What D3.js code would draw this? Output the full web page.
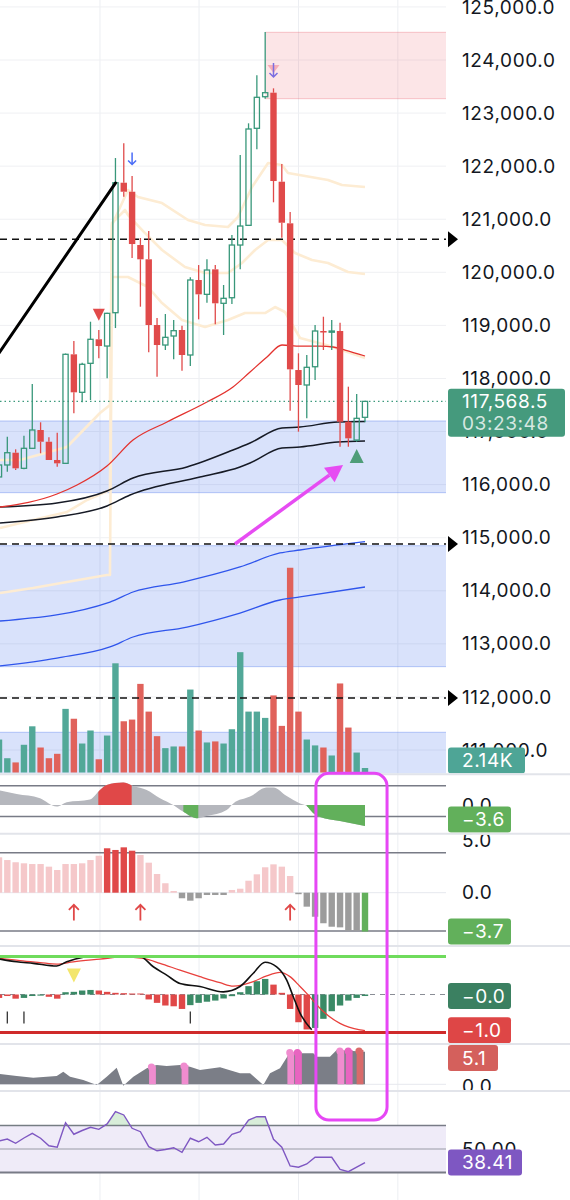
<!DOCTYPE html>
<html><head><meta charset="utf-8">
<script src="https://cdn.jsdelivr.net/npm/d3@7/dist/d3.min.js"></script>
<style>html,body{margin:0;padding:0;background:#fff;}svg{display:block;}</style>
</head><body>
<svg id="chart" width="570" height="1200" font-family="Inter, 'Noto Sans', sans-serif"></svg>
<script>
// ================= DATA =================
const openP  = [116144,116370,116601,116307,116684,117029,116808,116464,116401,118455,117739,118285,118738,118611,119239,121688,121518,120514,120245,119007,118630,118800,118913,118442,119855,119585,120056,119416,119521,120514,120885,122713,123308,123384,121707,120923,118159,117877,118221,118894,118881,118894,117185,116840,117268];
const highP  = [116450,116903,116665,116921,117895,117174,116891,116978,118470,118706,118297,119069,118913,119239,122153,122430,121814,120646,120778,119139,119214,119101,118994,119906,120137,120245,120137,119761,120703,122210,122807,123711,124527,123466,122040,121136,118474,118442,119007,119163,119101,119050,117845,117707,117568.5];
const lowP   = [116100,116243,116275,116290,116684,116590,116464,116337,116390,117343,117551,117594,118380,118003,118950,121424,120269,119352,118493,118033,118536,118361,118146,118235,119114,119427,119020,118819,119403,120056,120885,122317,123271,121319,120652,117392,116997,117249,117971,118536,118536,116714,116714,116808,117174];
const closeP = [116370,116601,116307,116684,117029,116808,116464,116401,118455,117739,118267,118738,118611,119227,121688,121518,120533,120245,119007,118630,118775,118900,118442,119855,119585,120043,119416,119510,120514,120872,122700,123297,123384,121720,120934,118172,117877,118210,118894,118881,118894,117185,116872,117249,117568.5];
const volumeK = [15.7,6.8,4.8,13.2,22.0,11.9,6.8,8.9,30.3,25.6,13.8,20.0,6.3,17.6,52.0,24.4,25.2,42.2,29.0,17.3,11.6,12.4,12.4,39.5,20.0,14.3,14.8,13.8,20.6,57.3,29.0,29.0,26.0,36.7,22.2,97.5,29.0,15.7,12.9,11.9,8.1,42.4,21.4,9.5,2.14];
const priceTicks = d3.range(111000, 125001, 1000);
const gridIdx = [12.14, 24.05, 36.0, 47.95];

// overlays (candle index, price)
const maRed   = [[0.12,115578],[6.97,115823],[9.38,115993],[12.98,116351],[16.11,116840],[20.2,117180],[25.0,117556],[28.13,117839],[30.18,118122],[32.22,118404],[34.02,118630],[36.19,118611],[38.59,118611],[40.15,118593],[41.6,118536],[44.0,118423]];
const maBlack1 = [[0.12,115578],[6.97,115653],[12.98,115880],[16.11,116124],[22.6,116332],[28.13,116652],[30.18,116784],[34.02,117066],[36.19,117085],[40.75,117180],[44.0,117189]];
const maBlack2 = [[0.12,115277],[6.97,115390],[12.98,115597],[15.75,115804],[24.16,116143],[28.97,116332],[30.18,116407],[34.02,116690],[36.19,116709],[40.75,116803],[44.0,116822]];
const maBlue1 = [[0.12,113430],[13.34,113788],[16.11,113977],[22.12,114165],[28.97,114448],[33.78,114712],[36.19,114768],[44.0,114924]];
const maBlue2 = [[0.12,112583],[6.97,112733],[13.34,112941],[16.11,113129],[22.6,113317],[28.97,113581],[33.78,113826],[36.19,113883],[44.0,114071]];
const bandUpper = [[0.12,116464],[2.52,116464],[8.17,116709],[12.14,117349],[13.34,117500],[13.58,120891],[15.51,121550],[16.71,121419],[19.6,121305],[22.72,120985],[24.77,120891],[27.53,120853],[28.73,121042],[30.42,121607],[32.35,122059],[34.02,122021],[34.74,121871],[39.55,121739],[41.23,121645],[44.0,121607]];
const bandMiddle = [[0.12,115182],[4.09,115333],[8.17,115484],[10.58,115710],[13.34,115898],[13.58,120929],[15.15,121174],[15.51,121079],[17.55,120740],[19.6,120420],[22.36,120100],[24.77,119987],[27.53,119987],[29.21,120175],[30.78,120420],[32.35,120608],[34.02,120608],[35.59,120363],[37.63,120232],[39.55,120175],[41.96,120006],[44.0,119968]];
const bandLower = [[0.12,113958],[4.09,114052],[8.17,114165],[12.98,114297],[13.34,114297],[13.58,119911],[15.51,119911],[17.91,119723],[19.6,119421],[22.0,119101],[24.77,118969],[27.53,119101],[29.57,119233],[31.98,119233],[33.18,119346],[34.38,119252],[36.19,118762],[39.79,118611],[44.0,118385]];
const blueZones = [[117199,115848],[114849,112570],[111334,110000]];
const pinkZone = {fromIdx:32, hi:124522, lo:123271};
const dashedLevels = [120621, 114880, 111980];
const lastPrice = 117568.5;
const countdown = "03:23:48";
const trendIdx = [-1, 14];
const trendVal = [118248, 121682];
const arrowFrom = [28.37, 114881];
const arrowTo = [41.36, 116369];

// panel 1 oscillator
const oscPts = [[0.12,3.6],[2.13,2.75],[4.93,1.7],[6.94,-0.4],[8.14,0.7],[10.94,1.4],[12.14,3.75],[12.95,5.0],[14.94,5.6],[16.15,4.75],[17.76,3.75],[19.36,1.7],[20.95,0],[22.16,-1.7],[23.77,-3.3],[24.97,-2.75],[27.37,-1.25],[28.17,0.4],[30.18,2.1],[32.18,4.4],[32.98,4.4],[34.59,2.25],[36.19,0.4],[36.99,-0.25],[37.75,-2.0],[38.59,-3.0],[40.99,-4.0],[44.0,-5.25]];
const oscRedRanges = [[11.94,15.95]];
const oscGreenRanges = [[22.16,23.96],[36.99,44.0]];
const oscLevels = [4.8, -2.9];
const oscLast = -3.6;

// panel 2 histogram
const histVal = [3.37,3.11,2.90,2.80,2.73,2.73,2.48,2.16,2.73,2.73,2.80,3.11,3.52,4.23,4.07,4.32,4.0,3.59,2.86,1.78,0.9,0.16,-0.53,-0.76,-0.53,-0.22,-0.22,-0.22,0.26,0.38,1.14,1.75,2.42,2.70,2.48,1.59,-0.1,-1.33,-2.29,-2.91,-3.24,-3.30,-3.62,-3.62,-3.7];
const histStrong = [13,14,15,16];
const histLevels = [3.8, -3.65];
const histArrowsIdx = [9,17,35];

// panel 3 macd-like
const macdHist = [-0.09,-0.04,-0.11,-0.09,-0.04,-0.03,-0.06,-0.11,0.06,0.07,0.105,0.12,0.105,0.07,0.044,0.035,0.026,0.026,-0.13,-0.22,-0.29,-0.31,-0.38,-0.28,-0.22,-0.19,-0.16,-0.105,-0.044,0.06,0.22,0.35,0.41,0.26,0.044,-0.38,-0.73,-0.92,-0.88,-0.64,-0.44,-0.29,-0.16,-0.09,-0.04];
const macdColor = "rrrgggrrggggrrrrrrrrrrrggggggggggrrrrrgggggggg".slice(0,45);
const macdLine = [[0.12,0.93],[2.13,0.86],[4.12,0.82],[6.94,0.75],[8.14,0.86],[10.13,0.98],[10.94,1.0],[16.95,1.0],[18.55,0.73],[20.16,0.51],[21.76,0.29],[24.16,0.21],[26.97,0.07],[28.97,0.21],[30.57,0.56],[31.98,0.85],[33.38,0.73],[34.59,0.38],[35.38,-0.06],[36.19,-0.49],[37.59,-0.93]];
const signalLine = [[0.12,0.95],[2.52,0.89],[4.93,0.84],[6.94,0.80],[8.93,0.86],[12.14,0.93],[14.94,0.99],[17.35,0.95],[19.36,0.82],[21.76,0.64],[24.16,0.47],[26.57,0.31],[28.17,0.22],[30.57,0.34],[32.18,0.49],[33.78,0.58],[34.98,0.47],[36.19,0.21],[36.99,0.03],[38.99,-0.45],[40.99,-0.76],[43.4,-0.93],[44.0,-0.95]];
const macdUpper = 1.0, macdLower = -1.0;
const macdTicksIdx = [1,3,23];
const macdTriIdx = 9, macdTriVal = 0.5;
const macdLabels = [-0.04, -1.0];

// panel 4 area + lollipops
const volatPts = [[0.12,1.98],[2.13,1.6],[4.12,1.27],[6.94,1.6],[7.73,2.42],[8.54,1.46],[10.13,0.83],[11.75,-0.13],[12.95,1.46],[14.15,3.19],[14.94,-0.27],[16.15,1.46],[17.76,3.08],[18.96,3.71],[20.16,3.52],[21.76,3.71],[22.96,3.38],[24.16,2.75],[26.57,3.27],[28.97,2.12],[30.18,2.12],[31.78,-0.13],[32.58,2.12],[33.78,3.08],[34.78,5.63],[35.38,5.96],[37.79,5.96],[38.19,5.31],[39.79,5.31],[40.6,6.6],[44.0,6.27]];
const lollyIdx = [18.45,22.36,35.08,36.0,41.1,42.1,43.4];
const lollyVal = [3.5,3.7,6.27,6.27,6.6,6.6,6.6];
const lollyColor = ["#f08ccf","#f08ccf","#f08ccf","#e864c0","#f08ccf","#e864c0","#d96a6a"];
const volatLast = 5.1;

// panel 5 RSI
const rsiVal = [56.8,58.5,54.9,59.4,63.4,59.2,52.8,51.5,72.5,62.6,65.8,68.5,66.8,71.4,81.9,79.1,67.7,64.8,52.0,48.5,49.6,51.1,47.2,59.2,56.2,60.0,53.4,54.3,62.6,64.8,74.8,77.6,77.6,58.3,51.5,35.5,34.4,37.2,42.9,42.9,42.9,32.6,30.6,34.6,38.41];

// annotation box
const boxIdx = [38.1, 46.65];
const boxTopPrice = 110560, boxBottomRsi = 74.8;

// ================= CHART =================
const W = 570, PR = 446;
const FONT = 19, LS = 0.6;
const svg = d3.select('#chart');
const x = d3.scaleLinear([0,44],[-1,365]);
const yP = d3.scaleLinear([124000,111000],[60,750]);
const yVol = d3.scaleLinear([0,100],[772.5,562.5]);
const yO = d3.scaleLinear([0,1],[805,801]);
const yH = d3.scaleLinear([0,5],[892.7,840.2]);
const yM = d3.scaleLinear([0,1],[994.5,956.5]);
const yV = d3.scaleLinear([0,1],[1084.3,1079.1]);
const yR = d3.scaleLinear([50,70],[1149,1125.6]);

const UP = "#38977a", DN = "#e04a4a";
const panels = [
  {id:'main', y0:0, y1:773.5},
  {id:'p1', y0:775, y1:833},
  {id:'p2', y0:834.7, y1:945.2},
  {id:'p3', y0:947, y1:1043.2},
  {id:'p4', y0:1045, y1:1090},
  {id:'p5', y0:1092, y1:1200}
];
const P = {}; panels.forEach(p=>P[p.id]=p);
const defs = svg.append('defs');
panels.forEach(p=>{
  defs.append('clipPath').attr('id','clip-'+p.id).append('rect')
    .attr('x',0).attr('y',p.y0).attr('width',PR).attr('height',p.y1-p.y0);
  defs.append('clipPath').attr('id','aclip-'+p.id).append('rect')
    .attr('x',PR).attr('y',p.y0).attr('width',W-PR).attr('height',p.y1-p.y0);
});
function pg(id){ return svg.append('g').attr('clip-path',`url(#clip-${id})`); }
function ag(id){ return svg.append('g').attr('clip-path',`url(#aclip-${id})`); }
const fmtSigned = (spec)=> v => (v<0?"\u2212":"") + d3.format(spec)(Math.abs(v));

// vertical grid
svg.append('g').selectAll('line').data(gridIdx).join('line')
  .attr('x1',d=>x(d)).attr('x2',d=>x(d)).attr('y1',0).attr('y2',1200)
  .attr('stroke','#eceef2').attr('stroke-width',1);

// ---------- main panel ----------
const gm = pg('main');
gm.append('g').selectAll('line').data(priceTicks).join('line')
  .attr('x1',0).attr('x2',PR).attr('y1',d=>yP(d)).attr('y2',d=>yP(d))
  .attr('stroke','#eff0f3').attr('stroke-width',1);

// zones
blueZones.forEach(z=>{
  gm.append('rect').attr('x',0).attr('width',PR).attr('y',yP(z[0])).attr('height',yP(z[1])-yP(z[0]))
    .attr('fill','rgba(66,110,235,0.2)');
  z.forEach(v=>gm.append('line').attr('x1',0).attr('x2',PR).attr('y1',yP(v)).attr('y2',yP(v))
    .attr('stroke','rgba(66,110,235,0.35)').attr('stroke-width',1));
});
gm.append('rect').attr('x',x(pinkZone.fromIdx)).attr('width',PR-x(pinkZone.fromIdx))
  .attr('y',yP(pinkZone.hi)).attr('height',yP(pinkZone.lo)-yP(pinkZone.hi)).attr('fill','rgba(235,80,95,0.15)');
[pinkZone.hi,pinkZone.lo].forEach(v=>gm.append('line').attr('x1',x(pinkZone.fromIdx)).attr('x2',PR)
  .attr('y1',yP(v)).attr('y2',yP(v)).attr('stroke','rgba(235,80,95,0.3)'));

// volume
gm.append('g').selectAll('rect').data(volumeK).join('rect')
  .attr('x',(d,i)=>x(i)-3.2).attr('width',6.4)
  .attr('y',d=>yVol(d)).attr('height',d=>yVol(0)-yVol(d))
  .attr('fill',(d,i)=>closeP[i]>=openP[i]?'#52a898':'#e0625b');

const lineP = d3.line().x(d=>x(d[0])).y(d=>yP(d[1]));
[bandUpper,bandMiddle,bandLower].forEach(b=>gm.append('path').attr('d',lineP(b))
  .attr('fill','none').attr('stroke','#fdecd3').attr('stroke-width',2.6).attr('stroke-linejoin','round'));
const smooth = d3.line().x(d=>x(d[0])).y(d=>yP(d[1])).curve(d3.curveMonotoneX);
[maBlue1,maBlue2].forEach(b=>gm.append('path').attr('d',smooth(b)).attr('fill','none').attr('stroke','#2f55ec').attr('stroke-width',1.3));
[maBlack1,maBlack2].forEach(b=>gm.append('path').attr('d',smooth(b)).attr('fill','none').attr('stroke','#161a25').attr('stroke-width',1.5));
gm.append('path').attr('d',smooth(maRed)).attr('fill','none').attr('stroke','#e3322e').attr('stroke-width',1.3);

// dashed levels
gm.append('g').selectAll('line').data(dashedLevels).join('line')
  .attr('x1',0).attr('x2',PR).attr('y1',d=>yP(d)).attr('y2',d=>yP(d))
  .attr('stroke','#111').attr('stroke-width',1.5).attr('stroke-dasharray','7,5');
// last price dotted
gm.append('line').attr('x1',0).attr('x2',PR).attr('y1',yP(lastPrice)).attr('y2',yP(lastPrice))
  .attr('stroke','#3d9a7d').attr('stroke-width',1.3).attr('stroke-dasharray','1.5,3');

// candles
const cg = gm.append('g');
d3.range(openP.length).forEach(i=>{
  const up = closeP[i] >= openP[i];
  const col = up?UP:DN;
  const top = yP(Math.max(openP[i],closeP[i])), bot = yP(Math.min(openP[i],closeP[i]));
  const cx = x(i);
  cg.append('line').attr('x1',cx).attr('x2',cx).attr('y1',yP(highP[i])).attr('y2',top).attr('stroke',col).attr('stroke-width',1.3);
  cg.append('line').attr('x1',cx).attr('x2',cx).attr('y1',bot).attr('y2',yP(lowP[i])).attr('stroke',col).attr('stroke-width',1.3);
  if(up){
    cg.append('rect').attr('x',cx-2.6).attr('width',5.2).attr('y',top).attr('height',Math.max(bot-top,1.2))
      .attr('fill','none').attr('stroke',col).attr('stroke-width',1.3);
  } else {
    cg.append('rect').attr('x',cx-3.2).attr('width',6.4).attr('y',top).attr('height',Math.max(bot-top,1.5)).attr('fill',col);
  }
});

// trend line
gm.append('line').attr('x1',x(trendIdx[0])).attr('y1',yP(trendVal[0])).attr('x2',x(trendIdx[1])).attr('y2',yP(trendVal[1]))
  .attr('stroke','#000').attr('stroke-width',3).attr('stroke-linecap','round');

// markers
{ const cx=x(12), cy=yP(119200);
  gm.append('path').attr('d',`M${cx-6},${cy-6}L${cx+6},${cy-6}L${cx},${cy+6}Z`).attr('fill','#e24a4a'); }
{ const cx=x(16), cy=yP(122144);
  gm.append('path').attr('d',`M${cx},${cy-6}L${cx},${cy+6}M${cx-4},${cy+2}L${cx},${cy+6}L${cx+4},${cy+2}`)
    .attr('fill','none').attr('stroke','#4a6cf7').attr('stroke-width',1.5); }
{ const cx=x(33), cy=yP(123811);
  gm.append('path').attr('d',`M${cx-6},${cy-5}L${cx+6},${cy-5}L${cx},${cy+3}Z`).attr('fill','rgba(240,120,140,0.5)');
  gm.append('path').attr('d',`M${cx},${cy-7}L${cx},${cy+7}M${cx-4},${cy+3}L${cx},${cy+7}L${cx+4},${cy+3}`)
    .attr('fill','none').attr('stroke','#7b6ee0').attr('stroke-width',1.5); }
{ const cx=x(43), cy=yP(116539);
  gm.append('path').attr('d',`M${cx-7},${cy+7}L${cx+7},${cy+7}L${cx},${cy-7}Z`).attr('fill','#4f9d78'); }
{ const x1=x(arrowFrom[0]), y1=yP(arrowFrom[1]), x2=x(arrowTo[0]), y2=yP(arrowTo[1]);
  const a=Math.atan2(y2-y1,x2-x1), L=17, Wd=9;
  const bx=x2-L*Math.cos(a), by=y2-L*Math.sin(a);
  gm.append('line').attr('x1',x1).attr('y1',y1).attr('x2',bx).attr('y2',by).attr('stroke','#e64cf2').attr('stroke-width',3.5);
  gm.append('path').attr('d',`M${x2},${y2}L${bx+Wd*Math.sin(a)},${by-Wd*Math.cos(a)}L${bx-Wd*Math.sin(a)},${by+Wd*Math.cos(a)}Z`).attr('fill','#e64cf2'); }

// ---------- panel 1 ----------
const g1 = pg('p1');
g1.append('g').selectAll('line').data(oscLevels).join('line')
  .attr('x1',0).attr('x2',PR).attr('y1',d=>yO(d)).attr('y2',d=>yO(d)).attr('stroke','#787b86').attr('stroke-width',1.5);
const oscArea = d3.area().x(d=>x(d[0])).y0(yO(0)).y1(d=>yO(d[1])).curve(d3.curveMonotoneX);
g1.append('path').attr('d',oscArea(oscPts)).attr('fill','#b5b7bd');
function rangeClip(id, ranges, y0, y1){
  const cp = defs.append('clipPath').attr('id',id);
  ranges.forEach(r=>cp.append('rect').attr('x',x(r[0])).attr('width',x(r[1])-x(r[0])).attr('y',y0).attr('height',y1-y0));
  return `url(#${id})`;
}
g1.append('path').attr('d',oscArea(oscPts)).attr('fill','#e04848').attr('clip-path',rangeClip('oscR',oscRedRanges,775,833));
g1.append('path').attr('d',oscArea(oscPts)).attr('fill','#62b05b').attr('clip-path',rangeClip('oscG',oscGreenRanges,775,833));

// ---------- panel 2 ----------
const g2 = pg('p2');
g2.append('line').attr('x1',0).attr('x2',PR).attr('y1',yH(0)).attr('y2',yH(0)).attr('stroke','#e6e8ee');
g2.append('g').selectAll('line').data(histLevels).join('line')
  .attr('x1',0).attr('x2',PR).attr('y1',d=>yH(d)).attr('y2',d=>yH(d)).attr('stroke','#787b86').attr('stroke-width',1.5);
g2.append('g').selectAll('rect').data(histVal).join('rect')
  .attr('x',(d,i)=>x(i)-3.2).attr('width',6.4)
  .attr('y',d=>Math.min(yH(d),yH(0))).attr('height',d=>Math.max(Math.abs(yH(d)-yH(0)),1.5))
  .attr('fill',(d,i)=> i===histVal.length-1 ? '#62b05b' : histStrong.includes(i) ? '#e04848' : d>=0 ? '#f5c8ca' : '#9c9c9c');
g2.append('g').selectAll('path').data(histArrowsIdx).join('path')
  .attr('d',i=>{const cx=x(i), t=yH(-1.15), b=yH(-2.65); return `M${cx},${b}L${cx},${t}M${cx-5},${t+5}L${cx},${t}L${cx+5},${t+5}`;})
  .attr('fill','none').attr('stroke','#e04848').attr('stroke-width',1.8);

// ---------- panel 3 ----------
const g3 = pg('p3');
g3.append('line').attr('x1',0).attr('x2',PR).attr('y1',yM(0)).attr('y2',yM(0)).attr('stroke','#8a8d96').attr('stroke-width',1.2).attr('stroke-dasharray','5,5');
g3.append('g').selectAll('rect').data(macdHist).join('rect')
  .attr('x',(d,i)=>x(i)-3.2).attr('width',6.4)
  .attr('y',d=>Math.min(yM(d),yM(0))).attr('height',d=>Math.max(Math.abs(yM(d)-yM(0)),1))
  .attr('fill',(d,i)=>macdColor[i]==='g'?'#3a8a66':'#e04848');
const lineM = d3.line().x(d=>x(d[0])).y(d=>yM(d[1])).curve(d3.curveMonotoneX);
g3.append('path').attr('d',lineM(signalLine)).attr('fill','none').attr('stroke','#e8403c').attr('stroke-width',1.3);
g3.append('path').attr('d',lineM(macdLine)).attr('fill','none').attr('stroke','#111').attr('stroke-width',1.6);
g3.append('line').attr('x1',0).attr('x2',PR).attr('y1',yM(macdUpper)).attr('y2',yM(macdUpper)).attr('stroke','#6fdb5c').attr('stroke-width',3);
g3.append('line').attr('x1',0).attr('x2',PR).attr('y1',yM(macdLower)).attr('y2',yM(macdLower)).attr('stroke','#cf2a2a').attr('stroke-width',3);
g3.append('g').selectAll('line').data(macdTicksIdx).join('line')
  .attr('x1',d=>x(d)).attr('x2',d=>x(d)).attr('y1',yM(-0.45)).attr('y2',yM(-0.76)).attr('stroke','#333').attr('stroke-width',1.3);
{ const cx=x(macdTriIdx), cy=yM(macdTriVal);
  g3.append('path').attr('d',`M${cx-7},${cy-7}L${cx+7},${cy-7}L${cx},${cy+7}Z`).attr('fill','#f3e66c'); }

// ---------- panel 4 ----------
const g4 = pg('p4');
g4.append('line').attr('x1',0).attr('x2',PR).attr('y1',yV(0)).attr('y2',yV(0)).attr('stroke','#e6e8ee');
g4.append('path').attr('d',d3.area().x(d=>x(d[0])).y0(yV(0)).y1(d=>yV(d[1]))(volatPts)).attr('fill','#7b7e87');
lollyIdx.forEach((li,k)=>{
  const cx=x(li), top=yV(lollyVal[k]);
  g4.append('rect').attr('x',cx-3.4).attr('width',6.8).attr('y',top).attr('height',yV(0)-top).attr('fill',lollyColor[k]);
  g4.append('circle').attr('cx',cx-1).attr('cy',top+1).attr('r',3.6).attr('fill',lollyColor[k]);
});

// ---------- panel 5 ----------
const g5 = pg('p5');
g5.append('rect').attr('x',0).attr('width',PR).attr('y',yR(70)).attr('height',yR(30)-yR(70)).attr('fill','#efebf8');
g5.append('line').attr('x1',0).attr('x2',PR).attr('y1',yR(50)).attr('y2',yR(50)).attr('stroke','#9a9ca5').attr('stroke-width',1.2);
g5.append('line').attr('x1',0).attr('x2',PR).attr('y1',yR(70)).attr('y2',yR(70)).attr('stroke','#787b86').attr('stroke-width',1.5);
g5.append('line').attr('x1',0).attr('x2',PR).attr('y1',yR(30)).attr('y2',yR(30)).attr('stroke','#787b86').attr('stroke-width',2);
defs.append('clipPath').attr('id','rsiOB').append('rect').attr('x',0).attr('y',1092).attr('width',PR).attr('height',yR(70)-1092);
g5.append('path').attr('clip-path','url(#rsiOB)')
  .attr('d',d3.area().x((d,i)=>x(i)).y0(yR(70)).y1(d=>yR(d))(rsiVal)).attr('fill','rgba(76,175,80,0.22)');
g5.append('path').attr('d',d3.line().x((d,i)=>x(i)).y(d=>yR(d))(rsiVal)).attr('fill','none').attr('stroke','#7e57c2').attr('stroke-width',1.4);

// ---------- axes ----------
const fmt1 = d3.format(",.1f");
function styleAxis(sel){
  sel.select('.domain').remove();
  sel.selectAll('text').attr('font-size',FONT).attr('letter-spacing',LS).attr('fill','#131722').attr('font-family',"Inter, 'Noto Sans', sans-serif");
}
ag('main').append('g').attr('transform',`translate(${PR},0)`)
  .call(d3.axisRight(yP).tickValues(priceTicks).tickFormat(fmt1).tickSize(0).tickPadding(16)).call(styleAxis);
ag('p1').append('g').attr('transform',`translate(${PR},0)`)
  .call(d3.axisRight(yO).tickValues([0]).tickFormat(d3.format(".1f")).tickSize(0).tickPadding(16)).call(styleAxis);
ag('p2').append('g').attr('transform',`translate(${PR},0)`)
  .call(d3.axisRight(yH).tickValues([5,0]).tickFormat(d3.format(".1f")).tickSize(0).tickPadding(16)).call(styleAxis);
ag('p4').append('g').attr('transform',`translate(${PR},2.5)`)
  .call(d3.axisRight(yV).tickValues([0]).tickFormat(d3.format(".1f")).tickSize(0).tickPadding(16)).call(styleAxis);
ag('p5').append('g').attr('transform',`translate(${PR},0)`)
  .call(d3.axisRight(yR).tickValues([50]).tickFormat(d3.format(".2f")).tickSize(0).tickPadding(16)).call(styleAxis);

// dashed level arrows
svg.append('g').selectAll('path').data(dashedLevels).join('path')
  .attr('d',d=>{const cy=yP(d); return `M${PR+2},${cy-8}L${PR+12},${cy}L${PR+2},${cy+8}Z`;}).attr('fill','#000');

// ---------- label boxes ----------
function label(panelId, cy, text, fill, w){
  const p = P[panelId];
  const h = 26;
  let c = Math.max(p.y0+h/2, Math.min(p.y1-h/2, cy));
  const g = ag(panelId);
  g.append('rect').attr('x',PR+2).attr('y',c-h/2).attr('width',w).attr('height',h).attr('rx',3).attr('fill',fill);
  g.append('text').attr('x',PR+16).attr('y',c).attr('dy','0.36em').attr('font-size',FONT).attr('letter-spacing',LS).attr('fill','#fff').text(text);
}
{ const cy=yP(lastPrice); const g=ag('main');
  g.append('rect').attr('x',PR+2).attr('y',cy-12.5).attr('width',117).attr('height',48).attr('rx',3).attr('fill','#459a7d');
  g.append('text').attr('x',PR+16).attr('y',cy).attr('dy','0.36em').attr('font-size',FONT).attr('letter-spacing',LS).attr('fill','#fff').text(fmt1(lastPrice));
  g.append('text').attr('x',PR+16).attr('y',cy+22).attr('dy','0.36em').attr('font-size',FONT).attr('letter-spacing',LS).attr('fill','rgba(255,255,255,0.78)').text(countdown);
}
const f1 = fmtSigned(".1f"), f2 = fmtSigned(".2f");
label('main', yVol(volumeK[volumeK.length-1]), d3.format(".2f")(volumeK[volumeK.length-1])+"K", '#4ea596', 77);
label('p1', yO(oscLast), f1(oscLast), '#62b05b', 63);
label('p2', yH(histVal[histVal.length-1]), f1(histVal[histVal.length-1]), '#62b05b', 63);
label('p3', yM(macdLabels[0]), f1(macdLabels[0]), '#3b8061', 63);
label('p3', yM(macdLabels[1]), f1(macdLabels[1]), '#de4646', 63);
label('p4', yV(volatLast), f1(volatLast), '#d4605c', 50);
label('p5', yR(rsiVal[rsiVal.length-1]), f2(rsiVal[rsiVal.length-1]), '#7e57c2', 74);

// separators
svg.append('g').selectAll('line').data([774.2,833.8,946,1044,1091]).join('line')
  .attr('x1',0).attr('x2',W).attr('y1',d=>d).attr('y2',d=>d).attr('stroke','#e2e4ea').attr('stroke-width',2);

// annotation box
svg.append('rect').attr('x',x(boxIdx[0])).attr('y',yP(boxTopPrice))
  .attr('width',x(boxIdx[1])-x(boxIdx[0])).attr('height',yR(boxBottomRsi)-yP(boxTopPrice))
  .attr('rx',13).attr('fill','none').attr('stroke','#e647f5').attr('stroke-width',3);
</script>
</body></html>
